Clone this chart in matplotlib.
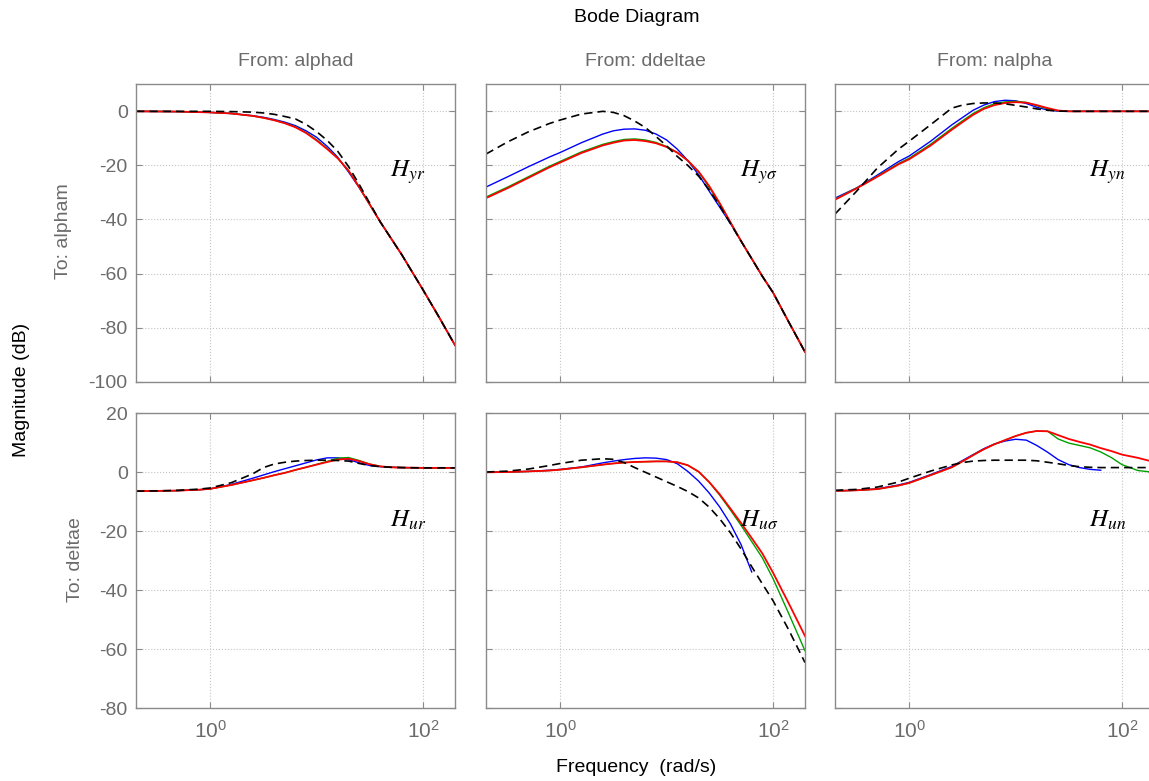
import numpy as np
import matplotlib
matplotlib.use('Agg')
import matplotlib.pyplot as plt
from matplotlib.ticker import NullLocator

plt.rcParams['font.family'] = ['Liberation Sans', 'DejaVu Sans']
plt.rcParams['mathtext.fontset'] = 'custom'
plt.rcParams['mathtext.rm'] = 'Liberation Sans'
plt.rcParams['mathtext.it'] = 'Liberation Sans:italic'
plt.rcParams['axes.unicode_minus'] = False

nan = np.nan

# frequency grid (rad/s)
freq = [0.2, 0.32, 0.5, 0.79, 1.0, 1.58, 2.51, 3.16, 3.98, 5.01, 6.31, 7.94,
        10, 12.6, 15.8, 20, 25.1, 31.6, 39.8, 50.1, 63.1, 79.4, 100, 141, 200]

# H_yr  (From: alphad -> To: alpham)
yr_blue = [0, -0.05, -0.1, -0.3, -0.4, -0.8, -1.6, -2.2, -3.0, -4.0, -5.3, -7.2,
           -9.6, -13.0, -17.0, -22.5, -28.2, -34.5, -41, -47, -53, -59.5, -66, -76, -86.5]
yr_green = [0, -0.05, -0.1, -0.3, -0.4, -0.8, -1.7, -2.4, -3.2, -4.3, -5.7, -7.8,
            -10.5, -13.8, -17.3, -22, -28, -34.5, -41, -47, -53, -59.5, -66, -76, -86.5]
yr_red = [0, -0.05, -0.1, -0.3, -0.4, -0.8, -1.7, -2.4, -3.3, -4.4, -5.9, -8.0,
          -10.8, -14.0, -17.4, -22, -28, -34.5, -41, -47, -53, -59.5, -66, -76, -86.5]
yr_ref = [0, 0, 0, 0, 0, -0.1, -0.3, -0.6, -1.1, -1.9, -2.8, -4.8,
          -7.5, -10.8, -14.8, -20.5, -27, -34, -41, -47, -53, -59.5, -66, -76, -86.5]

# H_ysigma  (From: ddeltae -> To: alpham)
ys_blue = [-28, -24.2, -20.5, -16.9, -15.2, -11.6, -8.4, -7.2, -6.6, -6.5, -7.0, -8.4,
           -10.6, -14.0, -18.2, -23.5, -29.5, -35.5, -41.5, -48, -54.5, -61, -67, -78, -89]
ys_green = [-31.7, -28, -24.2, -20.3, -18.5, -15, -12.2, -11.2, -10.4, -10.2, -10.6, -11.5,
            -13.0, -15.2, -18.2, -22.5, -28, -34.5, -41.2, -48, -54.5, -61, -67, -78, -89]
ys_red = [-32.1, -28.4, -24.6, -20.7, -18.9, -15.4, -12.6, -11.6, -10.8, -10.6, -11.0, -11.8,
          -13.2, -15.3, -18.2, -22.3, -27.6, -34, -41, -48, -54.5, -61, -67, -78, -89]
ys_ref = [-15.8, -11.3, -7.6, -4.5, -3.2, -1.0, 0, -0.4, -1.6, -3.6, -6.0, -9.3,
          -12.8, -16.7, -20, -24, -29, -35, -41.5, -48, -54.5, -61, -67, -78, -89]

# H_yn  (From: nalpha -> To: alpham)
yn_blue = [-32.1, -28.3, -23.6, -18.6, -16.5, -11.1, -5, -2.3, 0.4, 2.3, 3.6, 4.1,
           3.9, 2.9, 1.5, 0.5, 0.05, 0, 0, 0, 0, 0, 0, 0, 0]
yn_green = [-32.5, -28.4, -24, -19.3, -17.3, -12.2, -6.3, -3.5, -0.8, 1.3, 2.8, 3.5,
            3.7, 3.3, 2.1, 0.9, 0.2, 0, 0, 0, 0, 0, 0, 0, 0]
yn_red = [-32.7, -28.5, -24.2, -19.6, -17.7, -12.7, -6.8, -4.0, -1.3, 0.9, 2.3, 3.1,
          3.4, 3.2, 2.3, 1.2, 0.3, 0, 0, 0, 0, 0, 0, 0, 0]
yn_ref = [-38, -29.5, -21, -14, -11, -5, 1.2, 2.3, 2.9, 3.1, 3.1, 2.8,
          2.2, 1.6, 0.9, 0.4, 0.1, 0, 0, 0, 0, 0, 0, 0, 0]

# H_ur  (From: alphad -> To: deltae)
ur_blue = [-6.4, -6.3, -6.2, -5.9, -5.6, -4.1, -2.0, -0.9, 0.2, 1.2, 2.2, 3.2,
           4.2, 4.9, 4.9, 4.3, 3.2, 2.3, 1.9, 1.7, 1.6, 1.55, 1.5, 1.5, 1.5]
ur_green = [-6.4, -6.3, -6.2, -5.9, -5.6, -4.3, -2.7, -1.9, -1.0, -0.2, 0.8, 1.7,
            2.7, 3.7, 4.8, 5.0, 4.0, 2.8, 2.0, 1.7, 1.6, 1.55, 1.5, 1.5, 1.5]
ur_red = [-6.4, -6.3, -6.2, -5.9, -5.6, -4.3, -2.7, -1.9, -1.0, -0.2, 0.8, 1.7,
          2.6, 3.5, 4.3, 4.6, 3.8, 2.7, 2.0, 1.7, 1.6, 1.55, 1.5, 1.5, 1.5]
ur_ref = [-6.4, -6.3, -6.1, -5.7, -5.3, -3.5, -0.5, 1.6, 2.8, 3.4, 3.8, 4.0,
          4.1, 4.1, 4.0, 3.8, 3.0, 2.3, 1.9, 1.7, 1.6, 1.55, 1.5, 1.5, 1.5]

# H_usigma  (From: ddeltae -> To: deltae)
us_blue = [0, 0.1, 0.3, 0.7, 1.0, 1.8, 3.2, 3.8, 4.3, 4.7, 4.9, 4.8,
           4.3, 2.9, 0.3, -3.0, -7.0, -11.8, -17.5, -24.5, -33.8, nan, nan, nan, nan]
us_green = [0, 0.1, 0.3, 0.6, 0.9, 1.7, 2.6, 3.0, 3.3, 3.5, 3.6, 3.7,
            3.7, 3.4, 2.4, 0.2, -3.3, -7.8, -12.8, -18, -23.5, -29, -36, -48, -60.5]
us_red = [0, 0.1, 0.3, 0.6, 0.9, 1.7, 2.6, 3.0, 3.3, 3.5, 3.6, 3.7,
          3.7, 3.4, 2.4, 0.2, -3.3, -7.5, -12.3, -17.2, -22.3, -27.5, -34, -44.5, -55.5]
us_ref = [0.1, 0.4, 1.1, 2.3, 3.0, 4.1, 4.6, 4.4, 3.3, 1.6, 0.0, -1.6,
          -3.2, -4.8, -6.5, -8.7, -11.8, -15.8, -20.5, -26, -32, -37.8, -43.5, -53.5, -64.5]

# H_un  (From: nalpha -> To: deltae)
un_blue = [-6.3, -6.1, -5.6, -4.3, -3.4, -0.8, 2.0, 4.0, 6.0, 8.0, 9.6, 10.6,
           11.2, 10.9, 9.1, 6.8, 4.3, 2.6, 1.6, 1.0, 0.7, nan, nan, nan, nan]
un_green = [-6.3, -6.1, -5.7, -4.5, -3.6, -1.0, 1.7, 3.7, 5.8, 7.8, 9.5, 10.9,
            12.3, 13.4, 14.0, 13.9, 11.3, 9.9, 9.1, 8.3, 6.9, 5.0, 2.6, 0.6, 0.0]
un_red = [-6.3, -6.1, -5.7, -4.5, -3.6, -1.0, 1.7, 3.7, 5.8, 7.8, 9.5, 10.9,
          12.3, 13.4, 14.0, 13.9, 12.6, 11.3, 10.3, 9.4, 8.2, 7.2, 6.0, 4.9, 3.5]
un_ref = [-6.1, -5.8, -5.0, -3.3, -2.0, 0.4, 2.5, 3.3, 3.8, 4.0, 4.1, 4.1,
          4.1, 4.1, 3.9, 3.4, 2.9, 2.3, 1.9, 1.7, 1.6, 1.6, 1.6, 1.6, 1.6]

inputs = ['From: alphad', 'From: ddeltae', 'From: nalpha']
outputs = ['To: alpham', 'To: deltae']
tags = [[r'$H_{yr}$', r'$H_{y\sigma}$', r'$H_{yn}$'],
        [r'$H_{ur}$', r'$H_{u\sigma}$', r'$H_{un}$']]
curves = [[(yr_blue, yr_green, yr_red, yr_ref),
           (ys_blue, ys_green, ys_red, ys_ref),
           (yn_blue, yn_green, yn_red, yn_ref)],
          [(ur_blue, ur_green, ur_red, ur_ref),
           (us_blue, us_green, us_red, us_ref),
           (un_blue, un_green, un_red, un_ref)]]
row_ylim = [(-100, 10), (-80, 20)]
row_yticks = [[0, -20, -40, -60, -80, -100], [20, 0, -20, -40, -60, -80]]

W, H = 1149, 781
gray = '#6b6b6b'
fig = plt.figure(figsize=(W / 100, H / 100), dpi=100)

col_left = [136, 486, 835]
col_w = 319
rows_px = [(84.3, 381.7), (413.3, 708.3)]
tag_y = [0.688, 0.615]

for r in range(2):
    top, bot = rows_px[r]
    for c in range(3):
        ax = fig.add_axes([col_left[c] / W, (H - bot) / H, col_w / W, (bot - top) / H])
        b, g, rd, k = curves[r][c]
        ax.semilogx(freq, b, color='#0000ff', lw=1.0)
        ax.semilogx(freq, g, color='#00a000', lw=1.0)
        ax.semilogx(freq, rd, color='#ff0000', lw=1.3)
        ax.semilogx(freq, k, color='black', lw=1.2, ls=(0, (5, 3)))
        ax.set_xlim(0.2, 200)
        ax.set_ylim(*row_ylim[r])
        ax.set_xticks([1, 100])
        ax.xaxis.set_minor_locator(NullLocator())
        ax.set_yticks(row_yticks[r])
        if r == 1:
            ax.set_xticklabels([r'$10^{0}$', r'$10^{2}$'])
        else:
            ax.set_xticklabels([])
        if c > 0:
            ax.set_yticklabels([])
        ax.grid(True, ls=':', color='#c4c4c4', lw=0.8)
        ax.tick_params(direction='in', top=True, right=True, length=4, color='#8a8a8a',
                       labelcolor=gray, labelsize=14, pad=6)
        ax.tick_params(axis='x', pad=8, labelsize=15)
        for sp in ax.spines.values():
            sp.set_color('#8a8a8a')
            sp.set_linewidth(1.0)
        ax.text(0.797, tag_y[r], tags[r][c], transform=ax.transAxes, fontsize=18,
                math_fontfamily='stix', ha='left', va='baseline')
        if r == 0:
            fig.text((col_left[c] + col_w / 2) / W, 1 - 62 / H, inputs[c],
                     color=gray, fontsize=14, ha='center', va='center')

fig.text(63 / W, 1 - 231 / H, outputs[0], rotation=90, color=gray, fontsize=14,
         ha='center', va='center')
fig.text(75 / W, 1 - 560 / H, outputs[1], rotation=90, color=gray, fontsize=14,
         ha='center', va='center')
fig.text(22 / W, 1 - 390 / H, 'Magnitude (dB)', rotation=90, fontsize=14,
         ha='center', va='center')
fig.text(637 / W, 1 - 18 / H, 'Bode Diagram', fontsize=14, ha='center', va='center')
fig.text(636 / W, 1 - 767 / H, 'Frequency  (rad/s)', fontsize=14, ha='center', va='center')

fig.savefig('out.png', dpi=100)
